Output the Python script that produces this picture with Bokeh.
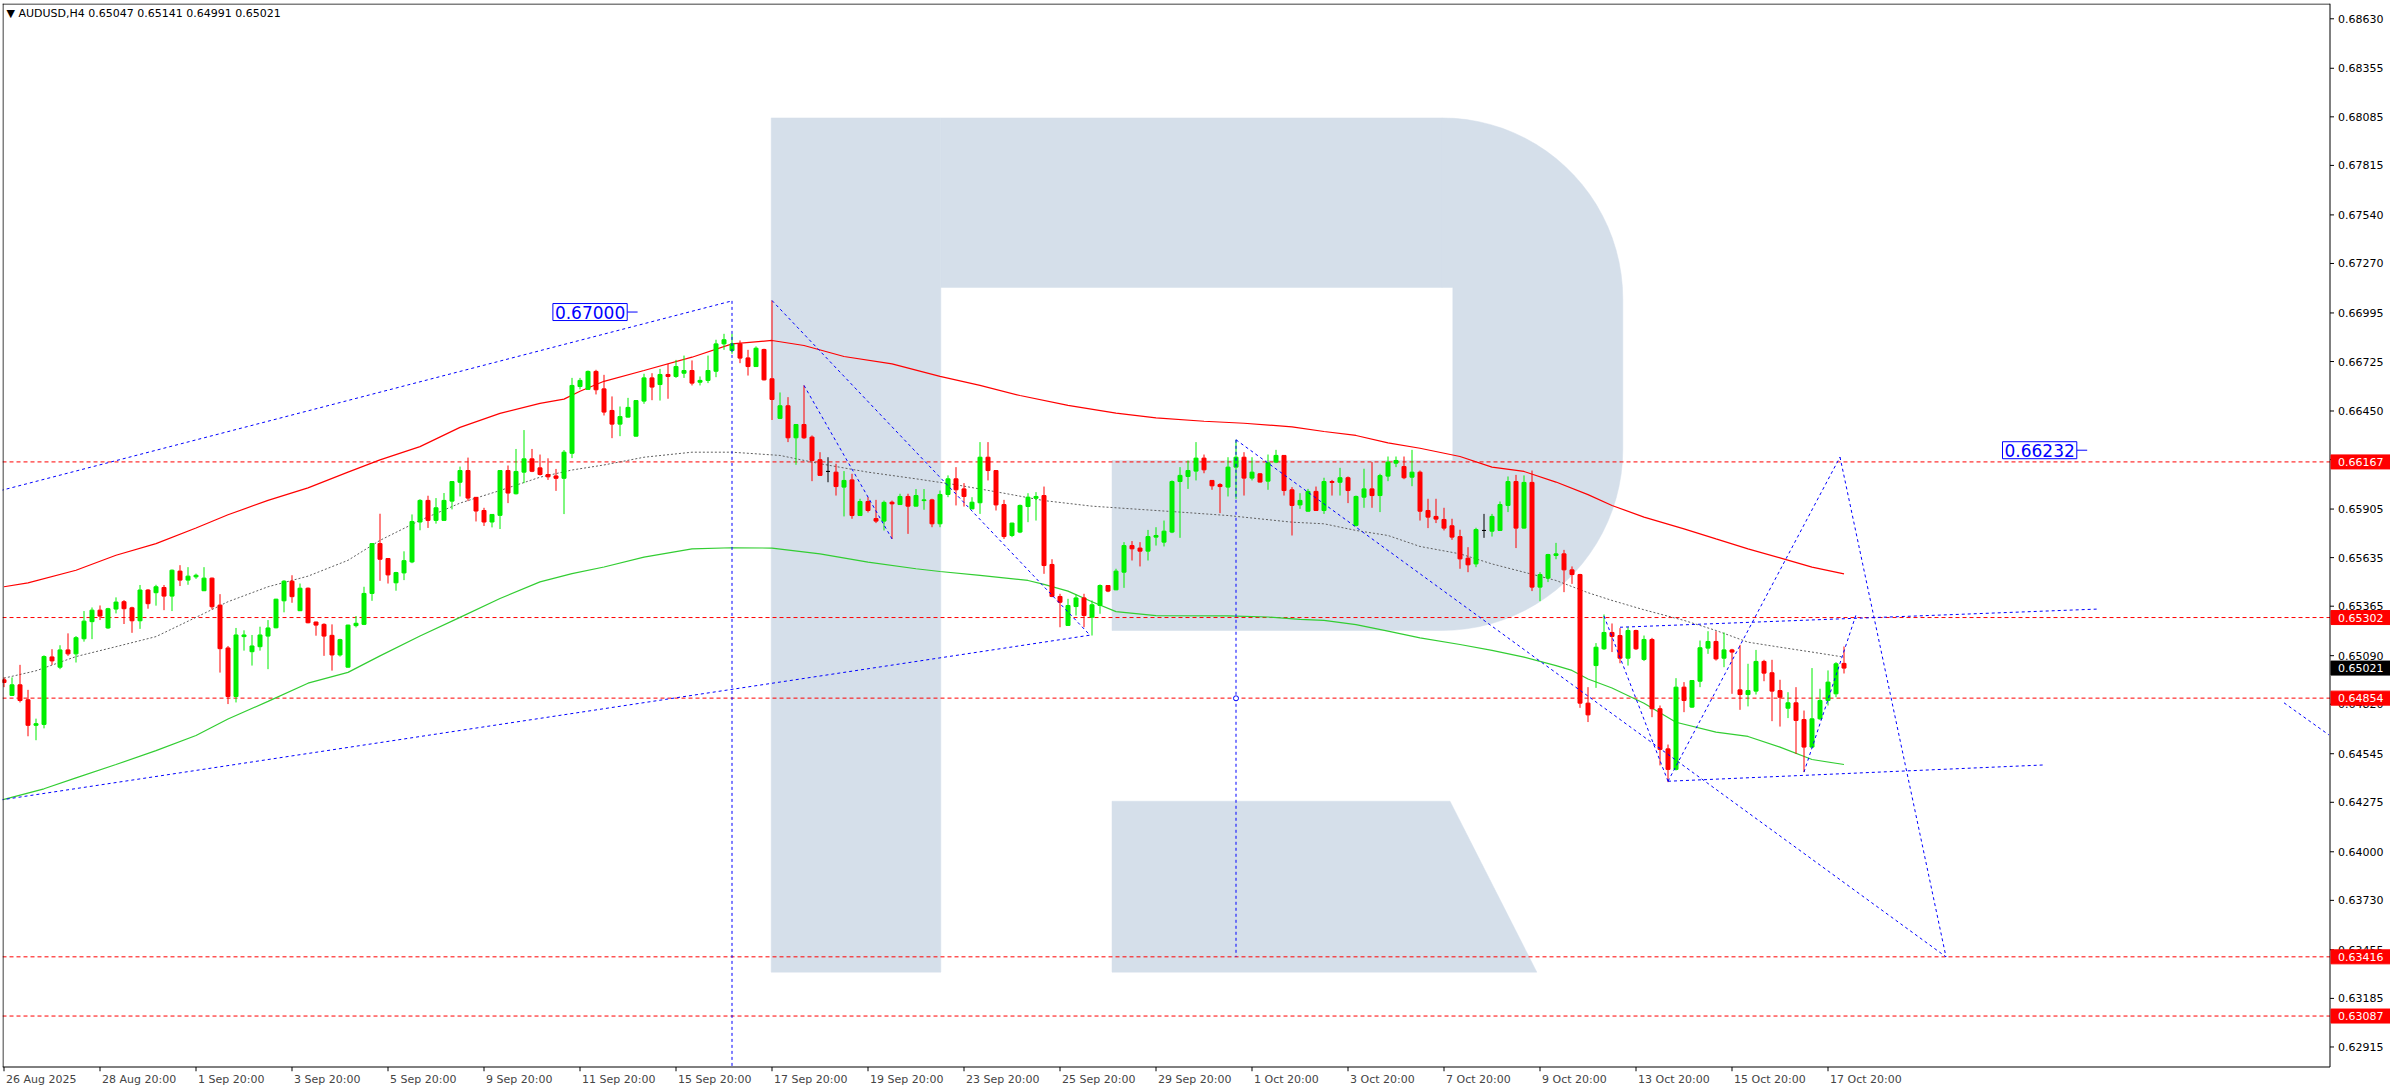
import numpy as np
from bokeh.plotting import figure
from bokeh.models import (Range1d, FixedTicker, Label, ColumnDataSource)
from bokeh.embed import file_html
from bokeh.resources import INLINE
from bokeh.core.properties import value

# ---------------- data (H4 candles, bar index 0 = 26 Aug 2025 20:00) ----------------
opens = [0.64956,0.64869,0.64928,0.64845,0.64703,0.64708,0.65083,0.65026,0.65122,0.65100,
 0.65184,0.65279,0.65343,0.65244,0.65349,0.65390,0.65356,0.65284,0.65455,0.65440,
 0.65469,0.65421,0.65560,0.65510,0.65528,0.65451,0.65521,0.65371,0.65133,0.64863,
 0.65196,0.65112,0.65140,0.65199,0.65245,0.65395,0.65504,0.65340,0.65465,0.65277,
 0.65264,0.65203,0.65094,0.65026,0.65257,0.65264,0.65436,0.65713,0.65630,0.65495,
 0.65550,0.65611,0.65833,0.65953,0.65842,0.65842,0.65949,0.66054,0.66119,0.65970,
 0.65897,0.65833,0.65870,0.66119,0.65990,0.66110,0.66184,0.66134,0.66097,0.66089,
 0.66076,0.66215,0.66586,0.66570,0.66670,0.66573,0.66453,0.66377,0.66416,0.66310,
 0.66505,0.66634,0.66597,0.66653,0.66642,0.66660,0.66675,0.66610,0.66620,0.66671,
 0.66823,0.66786,0.66823,0.66745,0.66697,0.66792,0.66629,0.66409,0.66479,0.66301,
 0.66375,0.66305,0.66179,0.66114,0.66110,0.66027,0.66067,0.65869,0.65947,0.65852,
 0.65838,0.65943,0.65930,0.65975,0.65921,0.65952,0.65956,0.65823,0.65986,0.66073,
 0.66017,0.65906,0.65940,0.66193,0.66119,0.65930,0.65758,0.65777,0.65919,0.65965,
 0.65980,0.65597,0.65419,0.65258,0.65363,0.65411,0.65304,0.65369,0.65480,0.65456,
 0.65554,0.65702,0.65688,0.65671,0.65749,0.65721,0.65777,0.66058,0.66086,0.66116,
 0.66188,0.66064,0.66041,0.66027,0.66138,0.66193,0.66077,0.66101,0.66060,0.66166,
 0.66203,0.66012,0.65928,0.65893,0.66003,0.65897,0.66058,0.66054,0.66079,0.65814,
 0.65971,0.66017,0.65980,0.66088,0.66160,0.66141,0.66082,0.66110,0.65897,0.65864,
 0.65847,0.65812,0.65752,0.65632,0.65600,0.65786,0.65782,0.65786,0.65925,0.66058,
 0.65799,0.66053,0.65471,0.65521,0.65647,0.65656,0.65567,0.65541,0.64826,0.65035,
 0.65128,0.65219,0.65202,0.65076,0.65230,0.65069,0.65180,0.64795,0.64572,0.64458,
 0.64915,0.64804,0.64948,0.65132,0.65169,0.65076,0.65122,0.64900,0.64874,0.64893,
 0.65058,0.64995,0.64896,0.64798,0.64828,0.64735,0.64582,0.64739,0.64841,0.64878,
 0.65047]
highs = [0.64969,0.64969,0.65039,0.64900,0.64740,0.65092,0.65126,0.65148,0.65214,0.65199,
 0.65338,0.65358,0.65369,0.65356,0.65414,0.65399,0.65362,0.65483,0.65460,0.65484,
 0.65483,0.65569,0.65593,0.65582,0.65546,0.65582,0.65524,0.65432,0.65144,0.65244,
 0.65231,0.65205,0.65251,0.65288,0.65406,0.65510,0.65537,0.65491,0.65469,0.65279,
 0.65270,0.65264,0.65184,0.65262,0.65310,0.65473,0.65716,0.65879,0.65632,0.65556,
 0.65670,0.65875,0.65960,0.65979,0.65966,0.65994,0.66060,0.66141,0.66191,0.65972,
 0.65912,0.65877,0.66121,0.66147,0.66239,0.66344,0.66239,0.66208,0.66187,0.66128,
 0.66233,0.66634,0.66634,0.66675,0.66679,0.66651,0.66531,0.66475,0.66523,0.66510,
 0.66657,0.66660,0.66684,0.66712,0.66734,0.66758,0.66731,0.66642,0.66758,0.66846,
 0.66879,0.66879,0.66842,0.66790,0.66809,0.66796,0.67064,0.66553,0.66527,0.66377,
 0.66592,0.66314,0.66221,0.66193,0.66157,0.66116,0.66101,0.65962,0.65971,0.65956,
 0.65952,0.65952,0.65990,0.65990,0.66016,0.66016,0.65962,0.66008,0.66092,0.66138,
 0.66049,0.65971,0.66277,0.66277,0.66121,0.65956,0.65829,0.65930,0.65993,0.65999,
 0.66030,0.65626,0.65434,0.65406,0.65430,0.65434,0.65397,0.65486,0.65482,0.65573,
 0.65721,0.65727,0.65721,0.65789,0.65804,0.65841,0.66064,0.66138,0.66175,0.66277,
 0.66208,0.66066,0.66049,0.66193,0.66290,0.66221,0.66193,0.66104,0.66208,0.66234,
 0.66205,0.66027,0.65993,0.66017,0.66030,0.66079,0.66067,0.66134,0.66086,0.65980,
 0.66129,0.66166,0.66101,0.66197,0.66197,0.66197,0.66234,0.66119,0.65962,0.65962,
 0.65912,0.65851,0.65790,0.65693,0.65801,0.65878,0.65878,0.65947,0.66086,0.66095,
 0.66092,0.66119,0.65554,0.65656,0.65717,0.65678,0.65586,0.65545,0.64915,0.65160,
 0.65319,0.65269,0.65243,0.65249,0.65234,0.65202,0.65189,0.64813,0.64596,0.64965,
 0.64943,0.64952,0.65174,0.65226,0.65226,0.65219,0.65128,0.65150,0.65045,0.65122,
 0.65067,0.65067,0.64956,0.64887,0.64915,0.64785,0.65021,0.64906,0.65008,0.65054,
 0.65141]
lows = [0.64915,0.64866,0.64830,0.64642,0.64620,0.64686,0.65039,0.65015,0.65089,0.65052,
 0.65168,0.65182,0.65288,0.65239,0.65325,0.65266,0.65217,0.65239,0.65351,0.65368,
 0.65343,0.65338,0.65477,0.65484,0.65517,0.65449,0.65347,0.64996,0.64821,0.64830,
 0.65118,0.65035,0.65118,0.65015,0.65242,0.65331,0.65384,0.65338,0.65270,0.65201,
 0.65089,0.65007,0.65085,0.65024,0.65247,0.65260,0.65395,0.65506,0.65491,0.65451,
 0.65510,0.65604,0.65787,0.65800,0.65824,0.65840,0.65903,0.65975,0.65949,0.65836,
 0.65811,0.65803,0.65794,0.65938,0.65986,0.66049,0.66110,0.66091,0.66067,0.66006,
 0.65877,0.66188,0.66570,0.66568,0.66542,0.66425,0.66299,0.66310,0.66414,0.66308,
 0.66490,0.66510,0.66508,0.66518,0.66634,0.66634,0.66592,0.66592,0.66605,0.66638,
 0.66790,0.66768,0.66716,0.66647,0.66695,0.66620,0.66400,0.66405,0.66277,0.66151,
 0.66295,0.66060,0.66090,0.66054,0.65980,0.65864,0.65851,0.65867,0.65886,0.65827,
 0.65786,0.65739,0.65928,0.65767,0.65919,0.65901,0.65804,0.65804,0.65971,0.65925,
 0.65919,0.65904,0.65878,0.66064,0.65897,0.65739,0.65749,0.65771,0.65832,0.65841,
 0.65545,0.65415,0.65248,0.65256,0.65313,0.65248,0.65202,0.65323,0.65443,0.65454,
 0.65467,0.65619,0.65586,0.65619,0.65702,0.65697,0.65771,0.65745,0.66017,0.66064,
 0.66104,0.66012,0.65882,0.65975,0.65962,0.65980,0.66064,0.66053,0.66012,0.66160,
 0.65980,0.65758,0.65906,0.65891,0.65895,0.65878,0.65980,0.65980,0.65938,0.65808,
 0.65912,0.65912,0.65888,0.66060,0.66138,0.66071,0.66032,0.65841,0.65799,0.65827,
 0.65786,0.65734,0.65573,0.65554,0.65582,0.65745,0.65752,0.65784,0.65888,0.65688,
 0.65797,0.65449,0.65393,0.65499,0.65626,0.65443,0.65489,0.64800,0.64721,0.64911,
 0.65122,0.65110,0.65048,0.65035,0.65122,0.65060,0.64748,0.64480,0.64387,0.64452,
 0.64776,0.64800,0.64915,0.65100,0.65063,0.65026,0.64878,0.64789,0.64808,0.64874,
 0.64948,0.64726,0.64696,0.64743,0.64544,0.64443,0.64578,0.64733,0.64813,0.64859,
 0.64991]
closes = [0.64941,0.64928,0.64841,0.64703,0.64712,0.65085,0.65061,0.65122,0.65100,0.65190,
 0.65282,0.65343,0.65310,0.65351,0.65388,0.65351,0.65284,0.65455,0.65379,0.65473,
 0.65421,0.65565,0.65510,0.65532,0.65537,0.65521,0.65362,0.65129,0.64863,0.65205,
 0.65205,0.65144,0.65205,0.65244,0.65404,0.65504,0.65418,0.65465,0.65273,0.65260,
 0.65199,0.65094,0.65179,0.65260,0.65270,0.65436,0.65713,0.65626,0.65539,0.65552,
 0.65618,0.65836,0.65953,0.65842,0.65912,0.65953,0.66058,0.66119,0.65966,0.65894,
 0.65833,0.65875,0.66119,0.65994,0.66114,0.66184,0.66115,0.66097,0.66084,0.66076,
 0.66221,0.66592,0.66620,0.66670,0.66568,0.66444,0.66377,0.66419,0.66470,0.66508,
 0.66634,0.66583,0.66653,0.66642,0.66697,0.66675,0.66605,0.66620,0.66675,0.66823,
 0.66846,0.66823,0.66744,0.66697,0.66799,0.66623,0.66514,0.66479,0.66301,0.66375,
 0.66301,0.66175,0.66092,0.66114,0.66030,0.66064,0.65869,0.65947,0.65897,0.65838,
 0.65942,0.65934,0.65975,0.65921,0.65980,0.65956,0.65823,0.65986,0.66073,0.66012,
 0.65975,0.65943,0.66193,0.66119,0.65928,0.65752,0.65827,0.65925,0.65971,0.65975,
 0.65591,0.65419,0.65387,0.65369,0.65411,0.65313,0.65373,0.65480,0.65449,0.65560,
 0.65702,0.65684,0.65671,0.65752,0.65758,0.65782,0.66058,0.66092,0.66119,0.66188,
 0.66123,0.66034,0.66030,0.66138,0.66193,0.66077,0.66110,0.66055,0.66162,0.66203,
 0.66008,0.65925,0.65953,0.66003,0.65897,0.66058,0.66053,0.66079,0.66008,0.65975,
 0.66017,0.65980,0.66091,0.66166,0.66175,0.66079,0.66110,0.65893,0.65860,0.65849,
 0.65799,0.65749,0.65628,0.65595,0.65791,0.65786,0.65864,0.65930,0.66058,0.65799,
 0.66053,0.65471,0.65541,0.65652,0.65656,0.65567,0.65541,0.64826,0.64761,0.65137,
 0.65219,0.65197,0.65076,0.65230,0.65128,0.65180,0.64795,0.64569,0.64458,0.64915,
 0.64841,0.64952,0.65134,0.65169,0.65072,0.65122,0.65110,0.64874,0.64896,0.65058,
 0.64993,0.64893,0.64859,0.64828,0.64730,0.64582,0.64739,0.64841,0.64943,0.65045,
 0.65021]

# moving averages: (bar index, value)
red_ma_bars = [0,3,9,14,19,24,28,33,38,43,47,52,57,62,67,70,72,75,80,86,91,96,100,105,111,117,
               122,127,133,139,144,150,155,161,165,169,173,177,182,186,190,194,198,201,205,
               210,214,218,222,226,230]
red_ma_vals = [0.65473,0.65495,0.65565,0.65648,0.65713,0.65800,0.65873,0.65953,0.66023,0.66110,
               0.66178,0.66252,0.66359,0.66437,0.66492,0.66516,0.66560,0.66615,0.66675,0.66749,
               0.66823,0.66842,0.66814,0.66753,0.66712,0.66642,0.66592,0.66536,0.66481,0.66438,
               0.66412,0.66393,0.66382,0.66362,0.66336,0.66314,0.66273,0.66243,0.66197,0.66138,
               0.66114,0.66055,0.65985,0.65925,0.65860,0.65795,0.65739,0.65684,0.65634,0.65582,
               0.65545]
green_ma_bars = [0,5,9,14,19,24,28,33,38,43,47,52,57,62,67,71,75,80,86,91,96,102,108,114,117,
                 122,128,130,133,136,139,144,153,158,162,165,169,173,177,182,186,190,194,196,
                 198,201,205,209,214,218,222,226,230]
green_ma_vals = [0.64291,0.64350,0.64411,0.64485,0.64562,0.64646,0.64738,0.64836,0.64937,0.64997,
                 0.65089,0.65199,0.65303,0.65408,0.65500,0.65546,0.65583,0.65638,0.65684,0.65690,
                 0.65688,0.65656,0.65610,0.65573,0.65558,0.65536,0.65508,0.65486,0.65449,0.65390,
                 0.65335,0.65313,0.65311,0.65305,0.65292,0.65286,0.65263,0.65226,0.65189,0.65152,
                 0.65119,0.65082,0.65035,0.65008,0.64960,0.64910,0.64826,0.64720,0.64665,0.64641,
                 0.64582,0.64513,0.64485]
gray_ma_bars = [0,4,9,14,19,24,28,33,38,43,47,52,57,62,67,71,75,80,86,91,97,102,108,114,119,
                125,130,136,141,147,153,161,165,169,173,177,182,186,190,194,198,201,205,210,
                214,218,222,226,230]
gray_ma_vals = [0.64965,0.65006,0.65085,0.65140,0.65196,0.65303,0.65390,0.65473,0.65532,0.65620,
                0.65731,0.65842,0.65938,0.66008,0.66082,0.66122,0.66150,0.66193,0.66221,0.66221,
                0.66203,0.66157,0.66110,0.66073,0.66040,0.65993,0.65952,0.65921,0.65906,0.65888,
                0.65869,0.65832,0.65823,0.65786,0.65758,0.65697,0.65656,0.65600,0.65554,0.65508,
                0.65440,0.65397,0.65345,0.65286,0.65230,0.65165,0.65137,0.65110,0.65082]

# analyst's drawn lines (bar index, price) start -> end
draw_x0 = [-0.4, -0.4, 96, 100, 154, 200, 208, 202, 208, 229.5, 225, 285]
draw_y0 = [0.66008, 0.64288, 0.67064, 0.66592, 0.66290, 0.65310, 0.64392, 0.65248, 0.64392, 0.66194, 0.64443, 0.64828]
draw_x1 = [91, 135.75, 135.75, 111, 242.75, 208, 255.2, 261.7, 229.5, 242.75, 231.5, 290.6]
draw_y1 = [0.67062, 0.65204, 0.65204, 0.65739, 0.63416, 0.64392, 0.64483, 0.65349, 0.66194, 0.63416, 0.65317, 0.64650]
vline_bars = [91, 154]
vline_top = [0.67062, 0.66290]
vline_bottom = [None, 0.63416]          # None: down to the bottom of the chart box

level_prices = [0.66167, 0.65302, 0.64854, 0.63416, 0.63087]
bid_price = 0.65021
target_labels = [("0.67000", 77.9, 0.67000), ("0.66232", 259.1, 0.66232)]

y_ticks = [0.68630, 0.68355, 0.68085, 0.67815, 0.67540, 0.67270, 0.66995, 0.66725, 0.66450,
           0.66180, 0.65905, 0.65635, 0.65365, 0.65090, 0.64820, 0.64545, 0.64275, 0.64000,
           0.63730, 0.63455, 0.63185, 0.62915]
date_labels = ["26 Aug 2025", "28 Aug 20:00", "1 Sep 20:00", "3 Sep 20:00", "5 Sep 20:00",
               "9 Sep 20:00", "11 Sep 20:00", "15 Sep 20:00", "17 Sep 20:00", "19 Sep 20:00",
               "23 Sep 20:00", "25 Sep 20:00", "29 Sep 20:00", "1 Oct 20:00", "3 Oct 20:00",
               "7 Oct 20:00", "9 Oct 20:00", "13 Oct 20:00", "15 Oct 20:00", "17 Oct 20:00"]
date_tick_bars = [12 * k for k in range(len(date_labels))]

# ---------------- layout (page has no margin: figure px == page px) ----------------
W, H = 2390, 1088
LEFT, TOP, BOTTOM = 2, 3, 17
PXB = 8.0            # pixels per bar
PXP = 17991.0        # pixels per price unit
frame_w, frame_h = W - LEFT, H - TOP - BOTTOM
x0 = -0.1875
x1 = x0 + frame_w / PXB
y1 = 0.687150
y0 = y1 - frame_h / PXP
x_axis = 290.75                        # price-scale line (right edge of the chart box)
y_base = y1 - 1063.5 / PXP             # time-scale line (bottom edge of the chart box)

p = figure(width=W, height=H, x_range=Range1d(x0, x1), y_range=Range1d(y0, y1),
           output_backend="svg", toolbar_location=None, y_axis_location=None,
           min_border_left=LEFT, min_border_top=TOP, min_border_right=0,
           min_border_bottom=BOTTOM)
p.grid.visible = False
p.outline_line_color = None
p.background_fill_color = "white"
p.border_fill_color = "white"

FONT = "DejaVu Sans"

# time axis: date labels placed just right of each tick (centres estimated from glyph widths)
CHW = {d: 7.0 for d in "0123456789"}
CHW.update({" ": 3.5, ":": 3.7, "A": 7.5, "u": 7.0, "g": 7.0, "S": 7.0, "e": 6.8,
            "p": 7.0, "O": 8.7, "c": 6.05, "t": 4.3})
label_pos = [b + (2.0 + sum(CHW.get(ch, 7.0) for ch in s) / 2.0) / PXB
             for b, s in zip(date_tick_bars, date_labels)]
xa = p.xaxis[0]
xa.ticker = FixedTicker(ticks=label_pos)
xa.major_label_overrides = {lp: s for lp, s in zip(label_pos, date_labels)}
xa.major_label_text_font = FONT
xa.major_label_text_font_size = "11px"
xa.major_label_standoff = 1
xa.major_tick_in = 0
xa.major_tick_out = 0
xa.minor_tick_in = 0
xa.minor_tick_out = 0
xa.axis_line_color = None

# ---------------- watermark "R" ----------------
WM = "#d5dfea"
r_left, r_stem_right, r_top, r_bottom = 95.9, 117.1, 0.68079, 0.63331
bowl_x, bowl_rx, bowl_ry = 179.75, 22.6, 0.01006
bowl_top_c, bowl_bot_c, bowl_bottom = 0.67073, 0.66236, 0.65230
hole_right, hole_top, hole_bottom, bar_left = 181.1, 0.67137, 0.66175, 138.5
leg_top, leg_top_right, leg_bottom_right = 0.64281, 180.75, 191.6

t1 = np.linspace(np.pi / 2, 0, 24)
t2 = np.linspace(0, -np.pi / 2, 24)
bowl_xs = ([bowl_x] + list(bowl_x + bowl_rx * np.cos(t1)) + list(bowl_x + bowl_rx * np.cos(t2))
           + [bowl_x, bar_left, bar_left, hole_right, hole_right, bowl_x])
bowl_ys = ([r_top] + list(bowl_top_c + bowl_ry * np.sin(t1)) + list(bowl_bot_c + bowl_ry * np.sin(t2))
           + [bowl_bottom, bowl_bottom, hole_bottom, hole_bottom, hole_top, hole_top])
wm_xs = [[r_left, r_stem_right, r_stem_right, r_left],
         [r_stem_right, bowl_x + 0.01, bowl_x + 0.01, r_stem_right],
         bowl_xs,
         [bar_left, leg_top_right, leg_bottom_right, bar_left]]
wm_ys = [[r_bottom, r_bottom, r_top, r_top],
         [hole_top, hole_top, r_top, r_top],
         bowl_ys,
         [leg_top, leg_top, r_bottom, r_bottom]]
p.patches(wm_xs, wm_ys, fill_color=WM, line_color=WM, line_width=0.5)

# ---------------- horizontal levels ----------------
nl = len(level_prices)
p.segment(x0=[x0] * nl, y0=level_prices, x1=[x_axis] * nl, y1=level_prices,
          line_color="#ff0000", line_dash="4 3", line_width=1)

# ---------------- moving averages ----------------
p.line(gray_ma_bars, gray_ma_vals, line_color="#606060", line_width=1, line_dash="2 2")
p.line(green_ma_bars, green_ma_vals, line_color="#32cd32", line_width=1.2)
p.line(red_ma_bars, red_ma_vals, line_color="#ff0000", line_width=1.2)

# ---------------- candles ----------------
n = len(opens)
cols = ["#00ee00" if c > o else ("#ff0000" if c < o else "#000000") for o, c in zip(opens, closes)]
src = ColumnDataSource(dict(x=list(range(n)), o=opens, h=highs, l=lows, c=closes,
                            top=[max(o, c) for o, c in zip(opens, closes)],
                            bot=[min(o, c) for o, c in zip(opens, closes)], col=cols))
p.segment(x0="x", y0="h", x1="x", y1="l", line_color="col", line_width=1, source=src)
p.vbar(x="x", width=0.5, top="top", bottom="bot", fill_color="col", line_color="col",
       line_width=1, source=src)

# ---------------- drawn lines ----------------
BLUE = "#0000ff"
p.segment(x0=draw_x0, y0=draw_y0, x1=draw_x1, y1=draw_y1, line_color=BLUE,
          line_width=1, line_dash="3 3")
p.segment(x0=vline_bars, y0=vline_top, x1=vline_bars,
          y1=[y_base if v is None else v for v in vline_bottom], line_color=BLUE,
          line_width=1, line_dash="3 3")
p.scatter([vline_bars[1]], [(vline_top[1] + vline_bottom[1]) / 2], marker="circle", size=5,
          line_color=BLUE, fill_color="white")

for txt, bx, by in target_labels:
    p.add_layout(Label(x=bx, y=by, text=txt, text_align="right", text_baseline="middle",
                       text_color=BLUE, text_font=FONT, text_font_size="17px",
                       background_fill_color="white", border_line_color=BLUE,
                       border_line_width=1, padding=2))
    p.segment(x0=[bx], y0=[by], x1=[bx + 1.3], y1=[by], line_color=BLUE, line_width=1)

# ---------------- chart box, time-scale ticks and price scale ----------------
half_px_x, half_px_y = 0.5 / PXB, 0.5 / PXP
p.segment(x0=[x0 + half_px_x, x0, x0, x_axis],
          y0=[y_base, y1 - half_px_y, y_base, y_base],
          x1=[x0 + half_px_x, x_axis, x_axis, x_axis],
          y1=[y1, y1 - half_px_y, y_base, y1], line_color="black", line_width=1)
nd = len(date_tick_bars)
p.segment(x0=date_tick_bars, y0=[y_base] * nd, x1=date_tick_bars,
          y1=[y_base - 4.5 / PXP] * nd, line_color="black", line_width=1)
nt = len(y_ticks)
p.segment(x0=[x_axis] * nt, y0=y_ticks, x1=[x_axis + 4 / PXB] * nt, y1=y_ticks,
          line_color="black", line_width=1)
p.text(x=[x_axis + 8 / PXB] * nt, y=y_ticks, text=["%.5f" % t for t in y_ticks],
       text_font=value(FONT), text_font_size=value("11px"), text_color="black",
       text_align="left", text_baseline="middle")

box_prices = level_prices + [bid_price]
box_colors = ["#ff0000"] * nl + ["#000000"]
nb = len(box_prices)
p.quad(left=[x_axis + 1 / PXB] * nb, right=[x1] * nb,
       top=[v + 7 / PXP for v in box_prices], bottom=[v - 7 / PXP for v in box_prices],
       fill_color=box_colors, line_color=box_colors)
p.text(x=[x_axis + 8 / PXB] * nb, y=box_prices, text=["%.5f" % v for v in box_prices],
       text_font=value(FONT), text_font_size=value("11px"), text_color="white",
       text_align="left", text_baseline="middle")

# ---------------- header ----------------
p.add_layout(Label(x=x0, y=y1, x_offset=4, y_offset=-3,
                   text="\u25bc AUDUSD,H4  %.5f %.5f %.5f %.5f"
                   % (opens[-1], highs[-1], lows[-1], closes[-1]),
                   text_align="left", text_baseline="top", text_font=FONT,
                   text_font_size="11px", text_color="black"))

open("out.html", "w").write(file_html(p, INLINE))
